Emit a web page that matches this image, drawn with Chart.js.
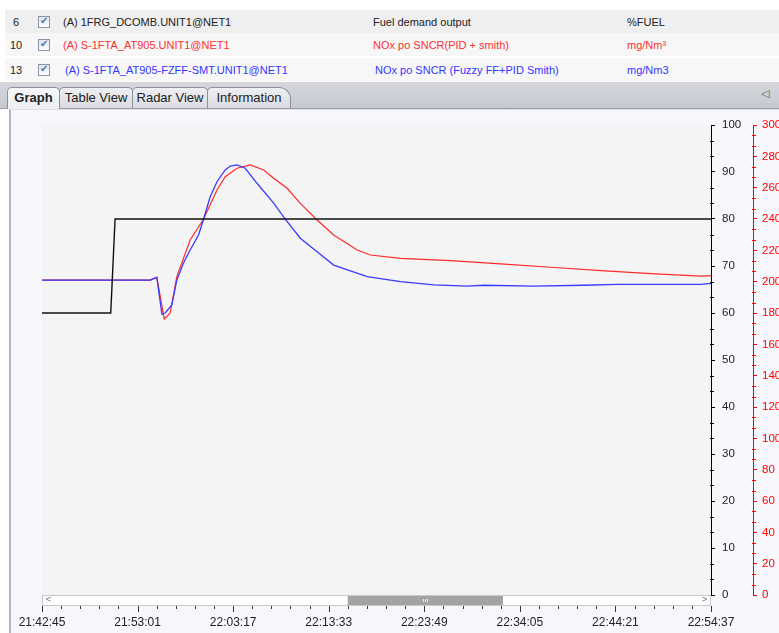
<!DOCTYPE html>
<html><head><meta charset="utf-8">
<script src="https://cdn.jsdelivr.net/npm/chart.js@4"></script>
<style>
html,body{margin:0;padding:0;width:779px;height:633px;overflow:hidden;background:#fff;font-family:"Liberation Sans",Arial,sans-serif;}
.row{position:absolute;left:5px;width:774px;height:23px;font-size:11px;color:#222;}
.row span{position:absolute;top:50%;transform:translateY(-50%);white-space:nowrap;}
.cb{position:absolute;left:33px;top:6px;width:10px;height:10px;border:1px solid #8796ad;background:linear-gradient(#dfe6ef,#fbfcfe);}
.cb:after{content:"\2714";position:absolute;left:1px;top:-2px;font-size:10px;color:#5a76a8;font-family:"DejaVu Sans";}
#tabs{position:absolute;left:0;top:82px;width:779px;height:26px;background:linear-gradient(#d5d7dd,#c6c9d0);border-bottom:1px solid #9b9dab;}
.tab{position:absolute;top:5px;height:21px;border:1px solid #8e909b;border-bottom:none;border-radius:5px 5px 0 0;background:linear-gradient(#eeeff2,#d9dbe0);font-size:13px;line-height:20px;color:#222;text-align:center;box-sizing:border-box;}
.tab.act{background:linear-gradient(#f6f7f9,#eceef2);font-weight:bold;height:22px;z-index:2;}
#panel{position:absolute;left:9px;top:109px;width:770px;height:524px;background:#f8f8fc;border-left:2px solid #b2b2cc;border-top:1px solid #e0e0ea;}
#c{position:absolute;left:12px;top:112px;}
</style></head><body>
<div class="row" style="top:10px;background:#efefef;"><span style="left:8px">6</span><div class="cb"></div><span style="left:58px">(A) 1FRG_DCOMB.UNIT1@NET1</span><span style="left:368px">Fuel demand output</span><span style="left:622px">%FUEL</span></div>
<div class="row" style="top:33px;background:#f7f7f7;color:#ff3030;"><span style="left:5px;color:#222">10</span><div class="cb"></div><span style="left:58px">(A) S-1FTA_AT905.UNIT1@NET1</span><span style="left:368px">NOx po SNCR(PID + smith)</span><span style="left:622px">mg/Nm³</span></div>
<div class="row" style="top:58px;background:#f7f7f7;color:#3535ff;"><span style="left:5px;color:#222">13</span><div class="cb"></div><span style="left:60px">(A) S-1FTA_AT905-FZFF-SMT.UNIT1@NET1</span><span style="left:370px">NOx po SNCR (Fuzzy FF+PID Smith)</span><span style="left:622px">mg/Nm3</span></div>
<div id="tabs">
<div class="tab act" style="left:7px;width:53px;">Graph</div>
<div class="tab" style="left:59px;width:74px;">Table View</div>
<div class="tab" style="left:132px;width:76px;">Radar View</div>
<div class="tab" style="left:207px;width:84px;border-radius:5px 12px 0 0;">Information</div>
<div style="position:absolute;left:761px;top:5px;font-size:11px;color:#555;font-family:'DejaVu Sans'">&#9665;</div>
</div>
<div id="panel"></div>
<canvas id="c" width="781" height="521"></canvas>
<script>
// time base 21:42:45, values in seconds after it
const baseSeconds = 21*3600 + 42*60 + 45;
const tickStep = 616; // 10:16
const xMax = 4312;

// Fuel demand output (%FUEL, left axis)
const fuelT = [0, 443, 471, 4312];
const fuelV = [60, 60, 80, 80];

// NOx po SNCR (PID + smith) mg/Nm3, right axis
const redT = [0, 697, 740, 788, 826, 869, 955, 1041, 1128, 1181, 1257, 1343, 1429, 1493, 1580, 1665, 1773, 1880, 2031, 2117, 2311, 2634, 2956, 3279, 3602, 3925, 4247, 4312];
const redV = [201, 201, 202.7, 176.2, 180, 203.2, 226.6, 239.8, 258.5, 267, 272.4, 274.5, 271.3, 266, 259.6, 250, 239.4, 229.8, 220.2, 217, 214.9, 213.4, 211.3, 209.2, 207, 205.1, 203.6, 203.8];

// NOx po SNCR (Fuzzy FF+PID Smith) mg/Nm3, right axis
const blueT = [0, 697, 740, 773, 794, 837, 869, 912, 955, 1009, 1041, 1084, 1128, 1181, 1214, 1257, 1310, 1386, 1493, 1569, 1665, 1773, 1880, 2096, 2311, 2526, 2741, 2849, 3169, 3492, 3710, 4247, 4312];
const blueV = [201, 201, 202.7, 179.2, 180, 185.1, 201, 211.9, 220.2, 229.8, 239.8, 254.2, 263.8, 271.3, 273.8, 274.5, 272.4, 262.8, 250.1, 239.8, 227.7, 219.1, 210.6, 203.2, 200, 197.9, 197.2, 197.7, 197.2, 197.7, 198.3, 198.3, 198.9];

const pts = (t, v) => t.map((x, i) => ({x: x, y: v[i]}));
const pad = n => String(n).padStart(2, '0');
const fmtTime = s => { s = Math.round(s + baseSeconds); return pad(Math.floor(s/3600)%24) + ':' + pad(Math.floor(s/60)%60) + ':' + pad(s%60); };

const deco = {
  id: 'deco',
  beforeDraw(chart) {
    const a = chart.chartArea, c = chart.ctx;
    c.save(); c.fillStyle = '#f4f4f4';
    c.fillRect(a.left, a.top, a.right - a.left, a.bottom - a.top);
    c.restore();
  },
  afterDraw(chart) {
    const a = chart.chartArea, c = chart.ctx;
    c.save();
    // minor ticks on y axes
    [['yL', 10/3, '#000'], ['yR', 20/3, '#ff0000']].forEach(([id, step, col]) => {
      const s = chart.scales[id];
      c.strokeStyle = col; c.lineWidth = 1; c.beginPath();
      for (let i = 0; i * step <= s.max + 1e-6; i++) {
        if (i % 3 === 0) continue;
        const y = Math.round(s.getPixelForValue(i * step)) + 0.5;
        c.moveTo(s.left - 1, y); c.lineTo(s.left + 3, y);
      }
      c.stroke();
    });
    // scrollbar
    const sbT = a.bottom, sbH = 11, w = a.right - a.left;
    c.fillStyle = '#ffffff'; c.fillRect(a.left, sbT, w, sbH);
    c.strokeStyle = '#c8c8c8'; c.lineWidth = 1;
    c.strokeRect(a.left + 0.5, sbT + 0.5, w - 1, sbH - 1);
    const th0 = a.left + w * 0.457, th1 = a.left + w * 0.689;
    c.fillStyle = '#a3a3a3'; c.fillRect(th0, sbT + 1, th1 - th0, sbH - 2);
    c.strokeStyle = '#e8e8e8'; c.beginPath();
    const mid = Math.round((th0 + th1) / 2);
    for (let k = -2; k <= 2; k += 2) { c.moveTo(mid + k + 0.5, sbT + 4); c.lineTo(mid + k + 0.5, sbT + 7); }
    c.stroke();
    c.fillStyle = '#777'; c.font = '8px "DejaVu Sans"'; c.textBaseline = 'middle';
    c.textAlign = 'left'; c.fillText('<', a.left + 3, sbT + 5);
    c.textAlign = 'right'; c.fillText('>', a.right - 3, sbT + 5);
    // x ticks below the scrollbar
    const x = chart.scales.x, y0 = sbT + sbH;
    c.strokeStyle = '#333'; c.beginPath();
    for (let i = 0; i <= 35; i++) {
      const px = Math.round(x.getPixelForValue(i * tickStep / 5)) + 0.5;
      c.moveTo(px, y0); c.lineTo(px, y0 + (i % 5 === 0 ? 6 : 3));
    }
    c.stroke();
    c.restore();
  }
};

new Chart(document.getElementById('c'), {
  type: 'line',
  data: {
    datasets: [
      {label: 'Fuel demand output', data: pts(fuelT, fuelV), yAxisID: 'yL', borderColor: '#111', borderWidth: 1.4, pointRadius: 0, tension: 0, order: 0},
      {label: 'NOx po SNCR (Fuzzy FF+PID Smith)', data: pts(blueT, blueV), yAxisID: 'yR', borderColor: '#3a3aff', borderWidth: 1.3, pointRadius: 0, tension: 0, order: 1},
      {label: 'NOx po SNCR(PID + smith)', data: pts(redT, redV), yAxisID: 'yR', borderColor: '#ff2a2a', borderWidth: 1.2, pointRadius: 0, tension: 0, order: 2}
    ]
  },
  options: {
    responsive: false, animation: false,
    layout: {padding: {left: 30, top: 13, right: 0, bottom: 0}},
    plugins: {legend: {display: false}, tooltip: {enabled: false}},
    scales: {
      x: {type: 'linear', min: 0, max: xMax, position: 'bottom',
          grid: {display: false, drawTicks: false}, border: {display: false},
          ticks: {stepSize: tickStep, autoSkip: false, maxRotation: 0, padding: 20, color: '#222',
                  font: {family: 'Liberation Sans', size: 12}, callback: v => fmtTime(v)},
          afterFit: s => { s.height = 38; s.paddingLeft = 0; s.paddingRight = 0; }},
      yL: {position: 'right', min: 0, max: 100, weight: 0,
           grid: {drawOnChartArea: false, drawTicks: true, tickLength: 4, tickColor: '#000'},
           border: {display: true, color: '#000', width: 1},
           ticks: {stepSize: 10, padding: 7, color: '#222', font: {family: 'Liberation Sans', size: 11.5}},
           afterFit: s => { s.width = 42; s.paddingTop = 0; s.paddingBottom = 0; }},
      yR: {position: 'right', min: 0, max: 300, weight: 1,
           grid: {drawOnChartArea: false, drawTicks: true, tickLength: 4, tickColor: '#ff0000'},
           border: {display: true, color: '#ff0000', width: 1},
           ticks: {stepSize: 20, padding: 5, color: '#ff0000', font: {family: 'Liberation Sans', size: 11.5}},
           afterFit: s => { s.width = 40; s.paddingTop = 0; s.paddingBottom = 0; }}
    }
  },
  plugins: [deco]
});
</script>
</body></html>
